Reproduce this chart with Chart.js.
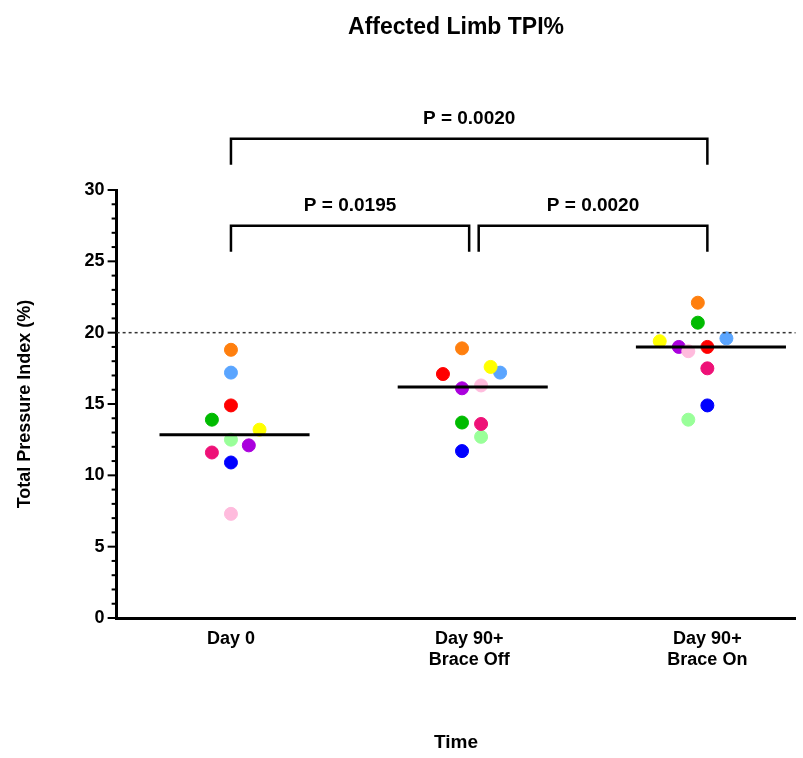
<!DOCTYPE html>
<html>
<head>
<meta charset="utf-8">
<script src="https://cdn.jsdelivr.net/npm/chart.js@4.4.0/dist/chart.umd.min.js"></script>
<style>
  body { margin: 0; background: #fff; }
  #wrap { width: 803px; height: 758px; }
</style>
</head>
<body>
<div id="wrap"><canvas id="tpi"></canvas></div>
<script>
const chartTitle = 'Affected Limb TPI%';
const groups = [['Day 0'], ['Day 90+', 'Brace Off'], ['Day 90+', 'Brace On']];
const colors = ['#ff7f0e', '#5aa5ff', '#ff0000', '#00bb00', '#ffff00', '#99ff99', '#aa00dd', '#ee1177', '#0000ff', '#ffbbdd'];
// one value per subject (same colour order) for each time point
const day0     = [18.8, 17.2, 14.9, 13.9, 13.2, 12.5, 12.1, 11.6, 10.9, 7.3];
const braceOff = [18.9, 17.2, 17.1, 13.7, 17.6, 12.7, 16.1, 13.6, 11.7, 16.3];
const braceOn  = [22.1, 19.6, 19.0, 20.7, 19.4, 13.9, 19.0, 17.5, 14.9, 18.7];
// horizontal jitter of each dot, in category units
const jitter0   = [0, 0, 0, -0.08, 0.12, 0, 0.075, -0.08, 0, 0];
const jitterOff = [-0.03, 0.13, -0.11, -0.03, 0.09, 0.05, -0.03, 0.05, -0.03, 0.05];
const jitterOn  = [-0.04, 0.08, 0, -0.04, -0.2, -0.08, -0.12, 0, 0, -0.08];
const medians = [12.85, 16.2, 19.0];
const refLine = 20;
const comparisons = [
  { from: 1, to: 2, y: 27.5, label: 'P = 0.0195' },
  { from: 2.04, to: 3, y: 27.5, label: 'P = 0.0020' },
  { from: 1, to: 3, y: 33.6, label: 'P = 0.0020' }
];

const series = [day0, braceOff, braceOn];
const jitters = [jitter0, jitterOff, jitterOn];
const points = [], pointColors = [];
series.forEach((vals, g) => {
  vals.forEach((v, i) => {
    points.push({ x: g + 1 + jitters[g][i], y: v });
    pointColors.push(colors[i]);
  });
});

const medianSets = medians.map((m, g) => ({
  type: 'line',
  data: [{ x: g + 1 - 0.3, y: m }, { x: g + 1 + 0.33, y: m }],
  borderColor: '#000', borderWidth: 3, pointRadius: 0, order: 0
}));

const extras = {
  id: 'extras',
  afterDatasetsDraw(chart) {
    const { ctx, chartArea, scales: { x, y } } = chart;
    ctx.save();
    // title centred over the plot area
    ctx.fillStyle = '#000'; ctx.font = 'bold 23px Arial, "Liberation Sans"';
    ctx.textAlign = 'center'; ctx.textBaseline = 'middle';
    ctx.fillText(chartTitle, (chartArea.left + chartArea.right) / 2, 28);
    // dotted reference line
    ctx.strokeStyle = '#333'; ctx.lineWidth = 1.5; ctx.setLineDash([3, 3]);
    ctx.beginPath();
    ctx.moveTo(chartArea.left, y.getPixelForValue(refLine));
    ctx.lineTo(chartArea.right, y.getPixelForValue(refLine));
    ctx.stroke();
    ctx.setLineDash([]);
    // brackets
    ctx.strokeStyle = '#000'; ctx.lineWidth = 2.5;
    ctx.font = 'bold 19px Arial, "Liberation Sans"';
    ctx.textBaseline = 'bottom';
    comparisons.forEach(c => {
      const x1 = x.getPixelForValue(c.from), x2 = x.getPixelForValue(c.to);
      const yt = y.getPixelForValue(c.y), yb = yt + 26;
      ctx.beginPath();
      ctx.moveTo(x1, yb); ctx.lineTo(x1, yt); ctx.lineTo(x2, yt); ctx.lineTo(x2, yb);
      ctx.stroke();
      ctx.fillText(c.label, (x1 + x2) / 2, yt - 10);
    });
    // minor ticks on y axis
    ctx.lineWidth = 2;
    for (let v = 0; v <= 30; v++) {
      const py = y.getPixelForValue(v);
      const len = v % 5 === 0 ? 9 : 5;
      ctx.beginPath();
      ctx.moveTo(chartArea.left - len, py); ctx.lineTo(chartArea.left, py);
      ctx.stroke();
    }
    ctx.restore();
  }
};

Chart.defaults.font.family = 'Arial, "Liberation Sans"';
Chart.defaults.color = '#000';

new Chart(document.getElementById('tpi'), {
  type: 'scatter',
  data: {
    datasets: [{
      data: points,
      backgroundColor: pointColors,
      borderColor: pointColors,
      pointRadius: 6.5, pointHoverRadius: 6.5,
      order: 1
    }, ...medianSets]
  },
  options: {
    responsive: true, maintainAspectRatio: false, animation: false,
    layout: { padding: { top: 190, right: 3, left: 10, bottom: 0 } },
    plugins: { legend: { display: false }, tooltip: { enabled: false } },
    scales: {
      x: {
        type: 'linear', min: 0.52, max: 3.37,
        afterBuildTicks: s => { s.ticks = [1, 2, 3].map(v => ({ value: v })); },
        ticks: { callback: v => groups[v - 1], font: { size: 18, weight: 'bold' }, padding: 10 },
        grid: { display: false, drawTicks: false },
        border: { color: '#000', width: 3 },
        title: { display: true, text: 'Time', font: { size: 19, weight: 'bold' }, padding: { top: 50 } }
      },
      y: {
        min: 0, max: 30,
        ticks: { stepSize: 5, font: { size: 18, weight: 'bold' }, padding: 12 },
        grid: { display: false, drawTicks: false },
        border: { color: '#000', width: 3 },
        title: { display: true, text: 'Total Pressure Index (%)', font: { size: 18, weight: 'bold' }, padding: { bottom: 37 } }
      }
    }
  },
  plugins: [extras]
});
</script>
</body>
</html>
